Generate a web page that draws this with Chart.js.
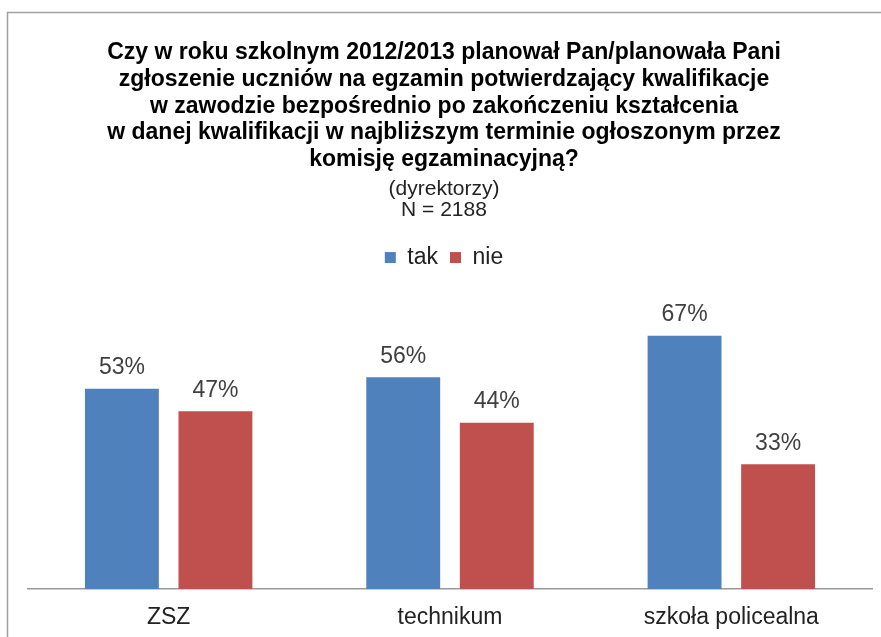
<!DOCTYPE html>
<html>
<head>
<meta charset="utf-8">
<script src="https://cdn.jsdelivr.net/npm/chart.js@4/dist/chart.umd.min.js"></script>
<style>
  html, body { margin: 0; padding: 0; background: #fff; }
  #wrap { width: 881px; height: 637px; position: relative; }
</style>
</head>
<body>
<div id="wrap"><canvas id="chart"></canvas></div>
<script>
const categories = ["ZSZ", "technikum", "szkoła policealna"];
const seriesNames = ["tak", "nie"];
const takValues = [53, 56, 67];
const nieValues = [47, 44, 33];
const titleLines = [
  "Czy w roku szkolnym 2012/2013 planował Pan/planowała Pani",
  "zgłoszenie uczniów na egzamin potwierdzający kwalifikacje",
  "w zawodzie bezpośrednio po zakończeniu kształcenia",
  "w danej kwalifikacji w najbliższym terminie ogłoszonym przez",
  "komisję egzaminacyjną?"
];
const subtitleLines = ["(dyrektorzy)", "N = 2188"];

const FONT = "'Liberation Sans', Arial, sans-serif";

// ramka wykresu (tylko lewa i górna krawędź widoczna)
const framePlugin = {
  id: "frame",
  afterDraw(chart) {
    const ctx = chart.ctx;
    ctx.save();
    ctx.strokeStyle = "#a0a0a0";
    ctx.lineWidth = 1.5;
    ctx.beginPath();
    ctx.moveTo(7.5, 637);
    ctx.lineTo(7.5, 12.5);
    ctx.lineTo(881, 12.5);
    ctx.stroke();
    ctx.restore();
  }
};

// etykiety wartości nad słupkami
const valueLabels = {
  id: "valueLabels",
  afterDatasetsDraw(chart) {
    const ctx = chart.ctx;
    ctx.save();
    ctx.font = "23px " + FONT;
    ctx.fillStyle = "#404040";
    ctx.textAlign = "center";
    ctx.textBaseline = "middle";
    chart.data.datasets.forEach((ds, i) => {
      chart.getDatasetMeta(i).data.forEach((bar, j) => {
        ctx.fillText(ds.data[j] + "%", bar.x, bar.y - 21);
      });
    });
    ctx.restore();
  }
};

new Chart(document.getElementById("chart"), {
  type: "bar",
  data: {
    labels: categories,
    datasets: [
      {
        label: seriesNames[0],
        data: takValues,
        backgroundColor: "#4f81bd",
        categoryPercentage: 0.665,
        barPercentage: 0.79,
      },
      {
        label: seriesNames[1],
        data: nieValues,
        backgroundColor: "#c0504d",
        categoryPercentage: 0.665,
        barPercentage: 0.79,
      },
    ],
  },
  options: {
    responsive: true,
    maintainAspectRatio: false,
    animation: false,
    layout: { padding: { left: 16, right: 9, top: 0, bottom: 0 } },
    scales: {
      x: {
        grid: { display: false, drawTicks: false },
        border: { display: true, color: "#999", width: 1.5 },
        ticks: {
          padding: 15,
          color: "#222",
          font: { family: FONT, size: 23 },
        },
        afterFit: (scale) => {
          scale.height = 48;
        },
      },
      y: {
        display: true,
        min: 0,
        max: 82,
        grid: { display: false, drawTicks: false },
        border: { display: false },
        ticks: { display: false },
        afterFit: (scale) => {
          scale.width = 12;
        },
      },
    },
    plugins: {
      title: {
        display: true,
        text: titleLines,
        color: "#000",
        font: { family: FONT, size: 23, weight: "bold", lineHeight: 1.16 },
        padding: { top: 39.5, bottom: 3 },
      },
      subtitle: {
        display: true,
        text: subtitleLines,
        color: "#222",
        font: { family: FONT, size: 21, lineHeight: 0.98 },
        padding: { top: 3.5, bottom: 13.5 },
      },
      legend: {
        position: "top",
        labels: {
          boxWidth: 11,
          boxHeight: 11,
          padding: 12,
          color: "#222",
          font: { family: FONT, size: 23 },
        },
      },
      tooltip: { enabled: false },
    },
  },
  plugins: [framePlugin, valueLabels],
});
</script>
</body>
</html>
